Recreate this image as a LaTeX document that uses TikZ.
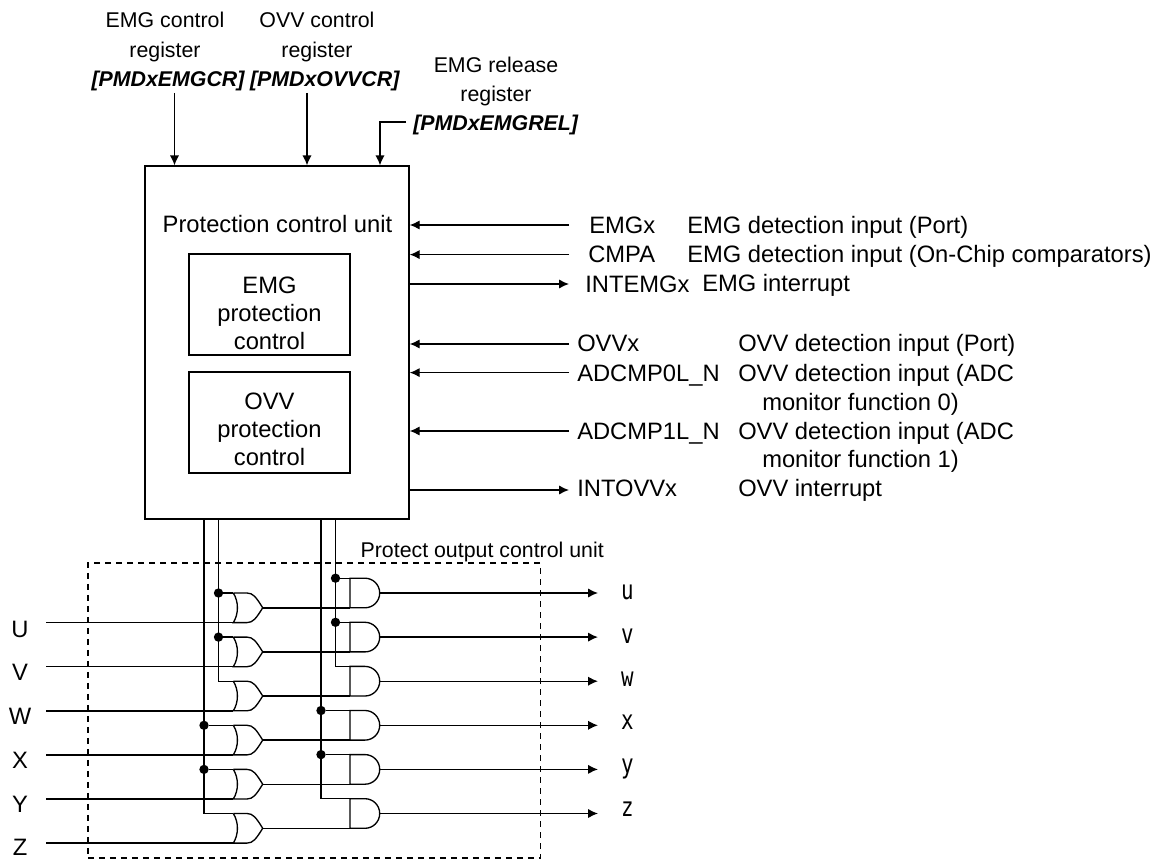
\documentclass[tikz,border=0pt]{standalone}
\usepackage{fontspec}
\setmainfont{Liberation Sans}
\newfontfamily\outfont[FakeStretch=0.78]{DejaVu Sans Mono}
\usetikzlibrary{arrows.meta, calc}
\tikzset{
  wire/.style={line width=1.05pt},
  sigarrow/.style={wire, -{Latex[length=7.5pt,width=7pt]}},
  unitbox/.style={draw, line width=1.05pt, minimum width=121pt, minimum height=75.5pt, align=center, font=\fontsize{17.8}{21}\selectfont},
  lbl/.style={inner sep=0pt, font=\fontsize{17.8}{21}\selectfont},
  reglbl/.style={inner sep=0pt, align=center, font=\fontsize{16}{22}\selectfont},
  dotnode/.style={circle, fill=black, inner sep=0pt, minimum size=7pt},
  gate/.style={line width=1pt}
}
% gate macros: #1 = name, #2 = y of top input (px)
\newcommand{\orgate}[2]{%
  \coordinate (or#1in) at (233.3,#2);
  \coordinate (or#1lo) at (233.3,#2+29.6);
  \coordinate (or#1out) at (262.7,#2+14.8);
  \draw[gate] (or#1in) -- (247,#2) .. controls (253,#2) and (256,#2+4) .. (or#1out)
    .. controls (256,#2+25.6) and (253,#2+29.6) .. (247,#2+29.6) -- (or#1lo)
    .. controls (238.8,#2+21) and (238.8,#2+8.6) .. (or#1in);
}
\newcommand{\andgate}[2]{%
  \coordinate (and#1in) at (350,#2);
  \coordinate (and#1lo) at (350,#2+29.6);
  \coordinate (and#1out) at (379.7,#2+14.8);
  \draw[gate] (and#1in) -- (365,#2) arc[start angle=90, end angle=-90, x radius=14.7, y radius=-14.8] -- (and#1lo) -- cycle;
}
\begin{document}
\begin{tikzpicture}[x=0.75pt, y=-0.75pt]
  \useasboundingbox (0,0) rectangle (1164,859);

  % control unit
  \node[draw, line width=1.05pt, minimum width=198pt, minimum height=264.75pt, inner sep=0pt] (ctrl) at (277,342.6) {};
  \node[lbl] (ctrltxt) at (277.5,224) {Protection control unit};
  \node[unitbox] (emgbox) at (269.5,304.5) {\rule{0pt}{25pt}EMG\\protection\\control};
  \node[unitbox] (ovvbox) at (269.5,422.5) {\rule{0pt}{23pt}OVV\\protection\\control};

  % registers
  \node[reglbl] (emgcr) at (165,51.5) {EMG control\\register\\\hspace*{5pt}\textbf{\textit{[PMDxEMGCR]}}};
  \node[reglbl] (ovvcr) at (317,51.5) {OVV control\\register\\\hspace*{12pt}\textbf{\textit{[PMDxOVVCR]}}};
  \node[reglbl] (emgrel) at (496,96) {EMG release\\register\\\textbf{\textit{[PMDxEMGREL]}}};
  \coordinate (emgcrend) at (174.5,93);
  \coordinate (ovvcrend) at (307,93);
  \coordinate (relend) at (406,122);
  \draw[sigarrow] (emgcrend) -- (emgcrend |- ctrl.north);
  \draw[sigarrow] (ovvcrend) -- (ovvcrend |- ctrl.north);
  \draw[sigarrow] (relend) -- (380,122) -- (380,0 |- ctrl.north);

  % signals on the right
  \foreach \yy/\by/\sid/\nm/\nx in {225/234/emgx/EMGx/589, 254.6/263/cmpa/CMPA/588, 344/352/ovvx/OVVx/577, 372.6/381/adczero/ADCMP0L\_N/577, 431/439/adcone/ADCMP1L\_N/577} {
    \coordinate (\sid end) at (569,\yy);
    \draw[sigarrow] (\sid end) -- (\sid end -| ctrl.east);
    \node[lbl, anchor=base west] (\sid) at (\nx,\by) {\nm};
  }
  \foreach \yy/\by/\sid/\nm/\nx in {284/293/intemg/INTEMGx/585, 490/496/intovv/INTOVVx/577} {
    \coordinate (\sid end) at (569,\yy);
    \draw[sigarrow] (\sid end -| ctrl.east) -- (\sid end);
    \node[lbl, anchor=base west] (\sid) at (\nx,\by) {\nm};
  }
  \foreach \nx/\yy/\sid/\txt in {687/234/emgxtxt/{EMG detection input (Port)}, 687/263/cmpatxt/{EMG detection input (On-Chip comparators)}, 702/292/intemgtxt/{EMG interrupt}, 738/352/ovvxtxt/{OVV detection input (Port)}, 738/381/adczerotxt/{OVV detection input (ADC}, 762/410/monzerotxt/{monitor function 0)}, 738/439/adconetxt/{OVV detection input (ADC}, 762/467/monetxt/{monitor function 1)}, 738/496/intovvtxt/{OVV interrupt}} {
    \node[lbl, anchor=base west] (\sid) at (\nx,\yy) {\txt};
  }

  % protect output control unit
  \node[draw, line width=1.05pt, dash pattern=on 4.5pt off 3.75pt, minimum width=339.4pt, minimum height=221.25pt, inner sep=0pt] (protbox) at (314.25,710.5) {};
  \node[reglbl, anchor=east] (prottxt) at (604,552) {Protect output control unit};

  % gates
  \foreach \i in {1,...,6} {
    \pgfmathsetmacro{\ytop}{593+44.1*(\i-1)}
    \orgate{\i}{\ytop}
    \pgfmathsetmacro{\ytopb}{578.2+44.1*(\i-1)}
    \andgate{\i}{\ytopb}
    \draw[wire] (or\i out) -- (and\i lo);
  }
  \foreach \i/\lab/\ly in {1/U/629, 2/V/672, 3/W/716, 4/X/760, 5/Y/804, 6/Z/847} {
    \node[inner sep=0pt, font=\fontsize{17.8}{20}\selectfont] (in\lab) at (20,\ly) {\lab};
    \draw[wire] (46,0 |- or\i lo) -- (or\i lo);
  }
  \foreach \i/\lab/\ly in {1/u/599, 2/v/643, 3/w/686, 4/x/729, 5/y/773, 6/z/816} {
    \draw[sigarrow] (and\i out) -- (598,0 |- and\i out);
    \node[inner sep=0pt, anchor=base, font=\outfont\fontsize{20}{24}\selectfont] (out\lab) at (627.5,\ly) {\lab};
  }

  % bus lines from the control unit
  \draw[wire] (218.5,0 |- ctrl.south) -- (218.5,0 |- or3in) -- (or3in);
  \draw[wire] (204,0 |- ctrl.south) -- (204,0 |- or6in) -- (or6in);
  \draw[wire] (335.5,0 |- ctrl.south) -- (335.5,0 |- and3in) -- (and3in);
  \draw[wire] (321,0 |- ctrl.south) -- (321,0 |- and6in) -- (and6in);
  \foreach \i in {1,2} {
    \node[dotnode] (dotor\i) at (218.5,0 |- or\i in) {};
    \draw[wire] (dotor\i) -- (or\i in);
    \node[dotnode] (dotand\i) at (335.5,0 |- and\i in) {};
    \draw[wire] (dotand\i) -- (and\i in);
  }
  \foreach \i in {4,5} {
    \node[dotnode] (dotor\i) at (204,0 |- or\i in) {};
    \draw[wire] (dotor\i) -- (or\i in);
    \node[dotnode] (dotand\i) at (321,0 |- and\i in) {};
    \draw[wire] (dotand\i) -- (and\i in);
  }
\end{tikzpicture}
\end{document}
